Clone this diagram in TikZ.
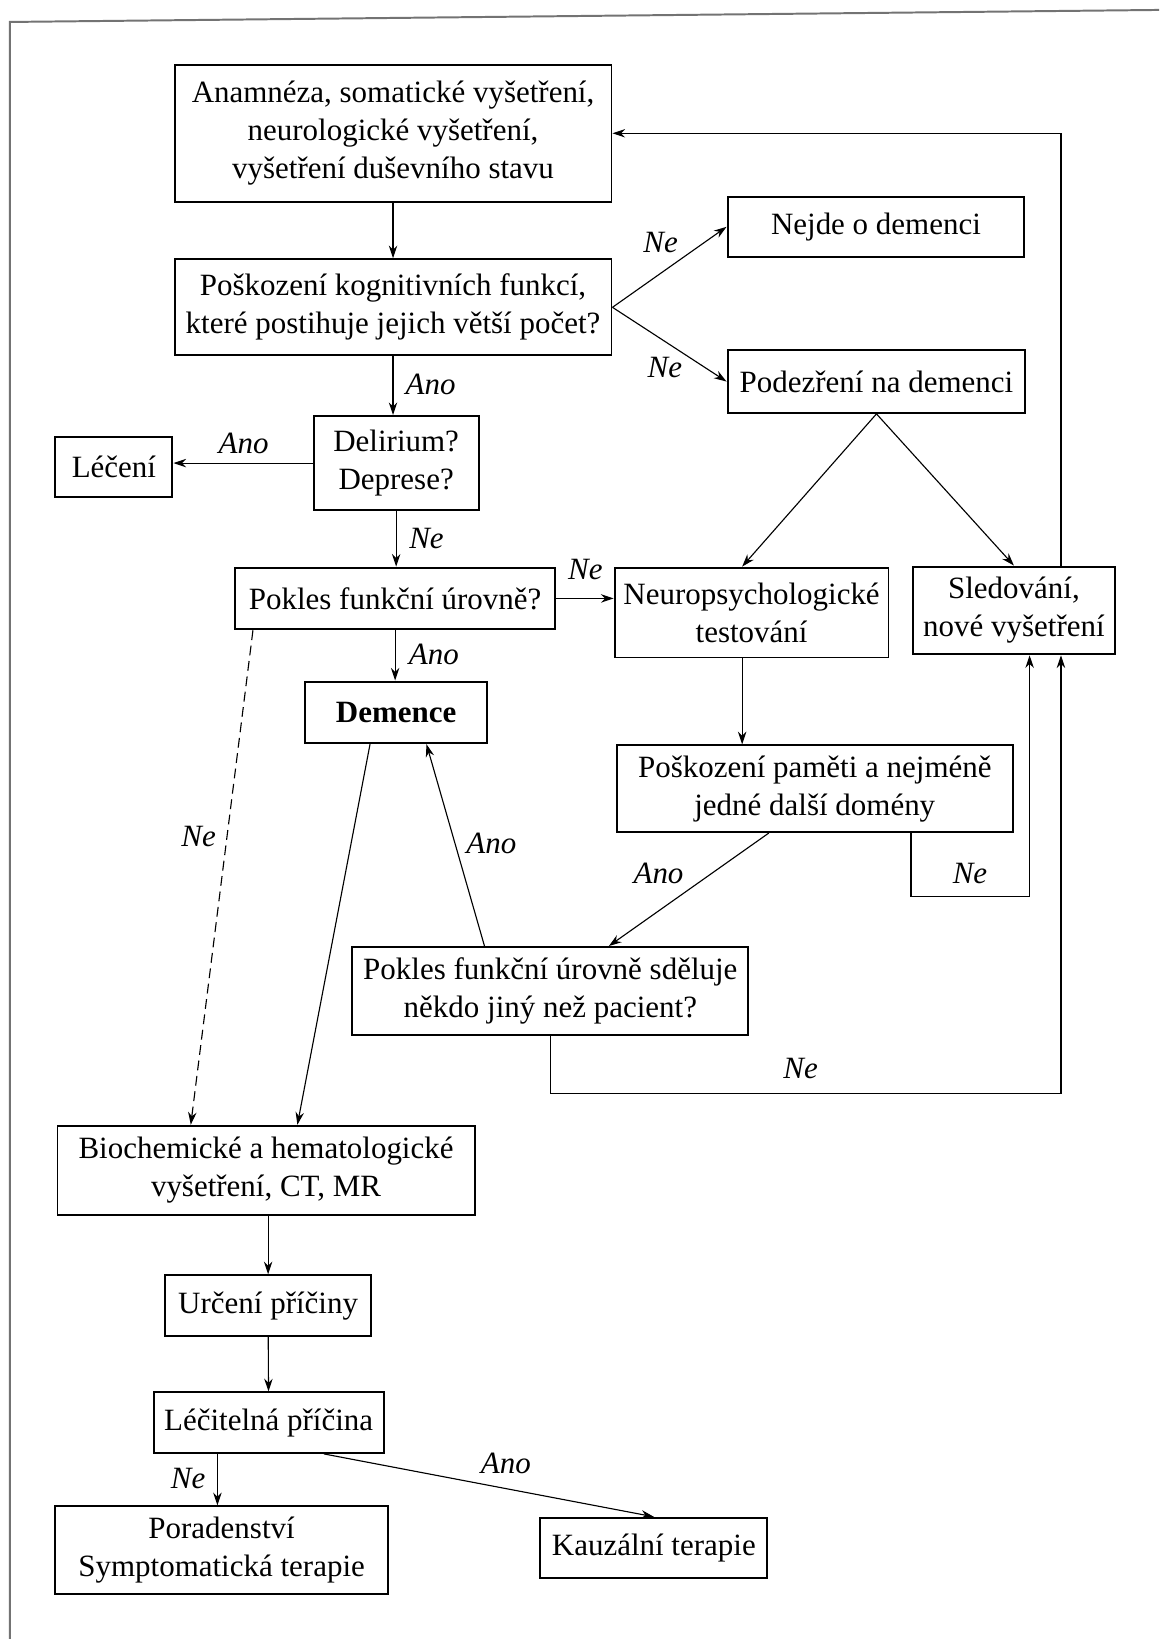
\documentclass[tikz,border=0pt]{standalone}
\usepackage{fontspec}
\setmainfont{Liberation Serif}
\usetikzlibrary{calc,arrows.meta}

\begin{document}
\begin{tikzpicture}[x=0.0261cm,y=-0.0261cm,font=\fontsize{22}{27}\selectfont,
	box/.style={draw,line width=1.4pt,align=center,inner sep=0pt},
	wh/.style 2 args={minimum width=#1*0.0261cm,minimum height=#2*0.0261cm},
	lbl/.style={font=\fontsize{22}{27}\selectfont\itshape,inner sep=0pt},
	>={Stealth[length=9pt,width=6pt]},line width=0.8pt]
	\useasboundingbox (0,0) rectangle (1109,1568);
	\draw[line width=1.4pt,black!55] (1109,9.5) -- (9.5,21) -- (9.5,1568);

	\node(anam) [box,wh={418}{131}] at (376,127.5) {Anamnéza, somatické vyšetření,\\neurologické vyšetření,\\vyšetření duševního stavu};
	\node(kogn) [box,wh={418}{92}] at (376,294) {Poškození kognitivních funkcí,\\které postihuje jejich větší počet?};
	\node(nejde) [box,wh={284}{58}] at (838,217) {Nejde o demenci};
	\node(podez) [box,wh={285}{60}] at (838.5,365) {Podezření na demenci};
	\node(delir) [box,wh={158}{90}] at (379,443) {Delirium?\\Deprese?};
	\node(leceni) [box,wh={112}{57}] at (109,446.5) {Léčení};
	\node(pokles) [box,wh={306}{59}] at (378,572.5) {Pokles funkční úrovně?};
	\node(neuro) [box,wh={262}{86}] at (719,586) {Neuropsychologické\\testování};
	\node(sled) [box,wh={194}{84}] at (970,584) {Sledování,\\nové vyšetření};
	\node(demence) [box,wh={174}{59}] at (379,681.5) {\textbf{Demence}};
	\node(pamet) [box,wh={379}{83}] at (779.5,754.5) {Poškození paměti a nejméně\\jedné další domény};
	\node(sdeluje) [box,wh={379}{84}] at (526.5,948) {Pokles funkční úrovně sděluje\\někdo jiný než pacient?};
	\node(bio) [box,wh={399}{85}] at (254.5,1119.5) {Biochemické a hematologické\\vyšetření, CT, MR};
	\node(urceni) [box,wh={197}{58}] at (256.5,1249) {Určení příčiny};
	\node(lecit) [box,wh={220}{58}] at (257,1361) {Léčitelná příčina};
	\node(porad) [box,wh={318}{84}] at (212,1483) {Poradenství\\Symptomatická terapie};
	\node(kauz) [box,wh={217}{58}] at (625.5,1481) {Kauzální terapie};

	\node(ne1) [lbl] at (632,232) {Ne};
	\node(ne2) [lbl] at (636,352) {Ne};
	\node(ano1) [lbl] at (412,368) {Ano};
	\node(ano2) [lbl] at (233,424) {Ano};
	\node(ne3) [lbl] at (408,515) {Ne};
	\node(ne4) [lbl] at (560,545) {Ne};
	\node(ano3) [lbl] at (415,626) {Ano};
	\node(ne5) [lbl] at (190,800) {Ne};
	\node(ano4) [lbl] at (470,807) {Ano};
	\node(ano5) [lbl] at (630,836) {Ano};
	\node(ne6) [lbl] at (928,836) {Ne};
	\node(ne7) [lbl] at (766,1022) {Ne};
	\node(ne8) [lbl] at (180,1414) {Ne};
	\node(ano6) [lbl] at (484,1400) {Ano};

	\draw[->] (anam) -- (kogn);
	\draw[->] (kogn.east) -- (nejde.west);
	\draw[->] (kogn.east) -- (podez.west);
	\draw[->] (kogn.south) -- (kogn.south |- delir.north);
	\draw[->] (delir.west) -- (delir.west -| leceni.east);
	\draw[->] (delir.south) -- (delir.south |- pokles.north);
	\draw[->] (pokles.east) -- (pokles.east -| neuro.west);
	\draw[->] (podez.south) -- ($(neuro.north)+(-9,0)$);
	\draw[->] (podez.south) -- (sled.north);
	\draw[->] ($(sled.north)+(45,0)$) |- (anam.east);
	\draw[->] (pokles.south) -- (pokles.south |- demence.north);
	\draw[->,dash pattern=on 7pt off 4pt] ($(pokles.south)+(-136,0)$) -- ($(bio.north)+(-72,0)$);
	\draw[->] ($(demence.south)+(-25,0)$) -- ($(bio.north)+(30,0)$);
	\draw[->] ($(sdeluje.north)+(-63,0)$) -- ($(demence.south)+(29,0)$);
	\draw[->] ($(neuro.south)+(-9,0)$) -- ($(pamet.north)+(-69.5,0)$);
	\draw[->] ($(pamet.south)+(-44,0)$) -- ($(sdeluje.north)+(56,0)$);
	\draw[->] ($(pamet.south)+(92,0)$) -- ++(0,61) -| ($(sled.south)+(15,0)$);
	\draw[->] (sdeluje.south) -- ++(0,55) -| ($(sled.south)+(45,0)$);
	\draw[->] (urceni.north |- bio.south) -- (urceni.north);
	\draw[->] (urceni) -- (lecit);
	\draw[->] ($(lecit.south)+(-49,0)$) -- ($(porad.north)+(-4,0)$);
	\draw[->] ($(lecit.south)+(53,0)$) -- (kauz.north);
\end{tikzpicture}
\end{document}
